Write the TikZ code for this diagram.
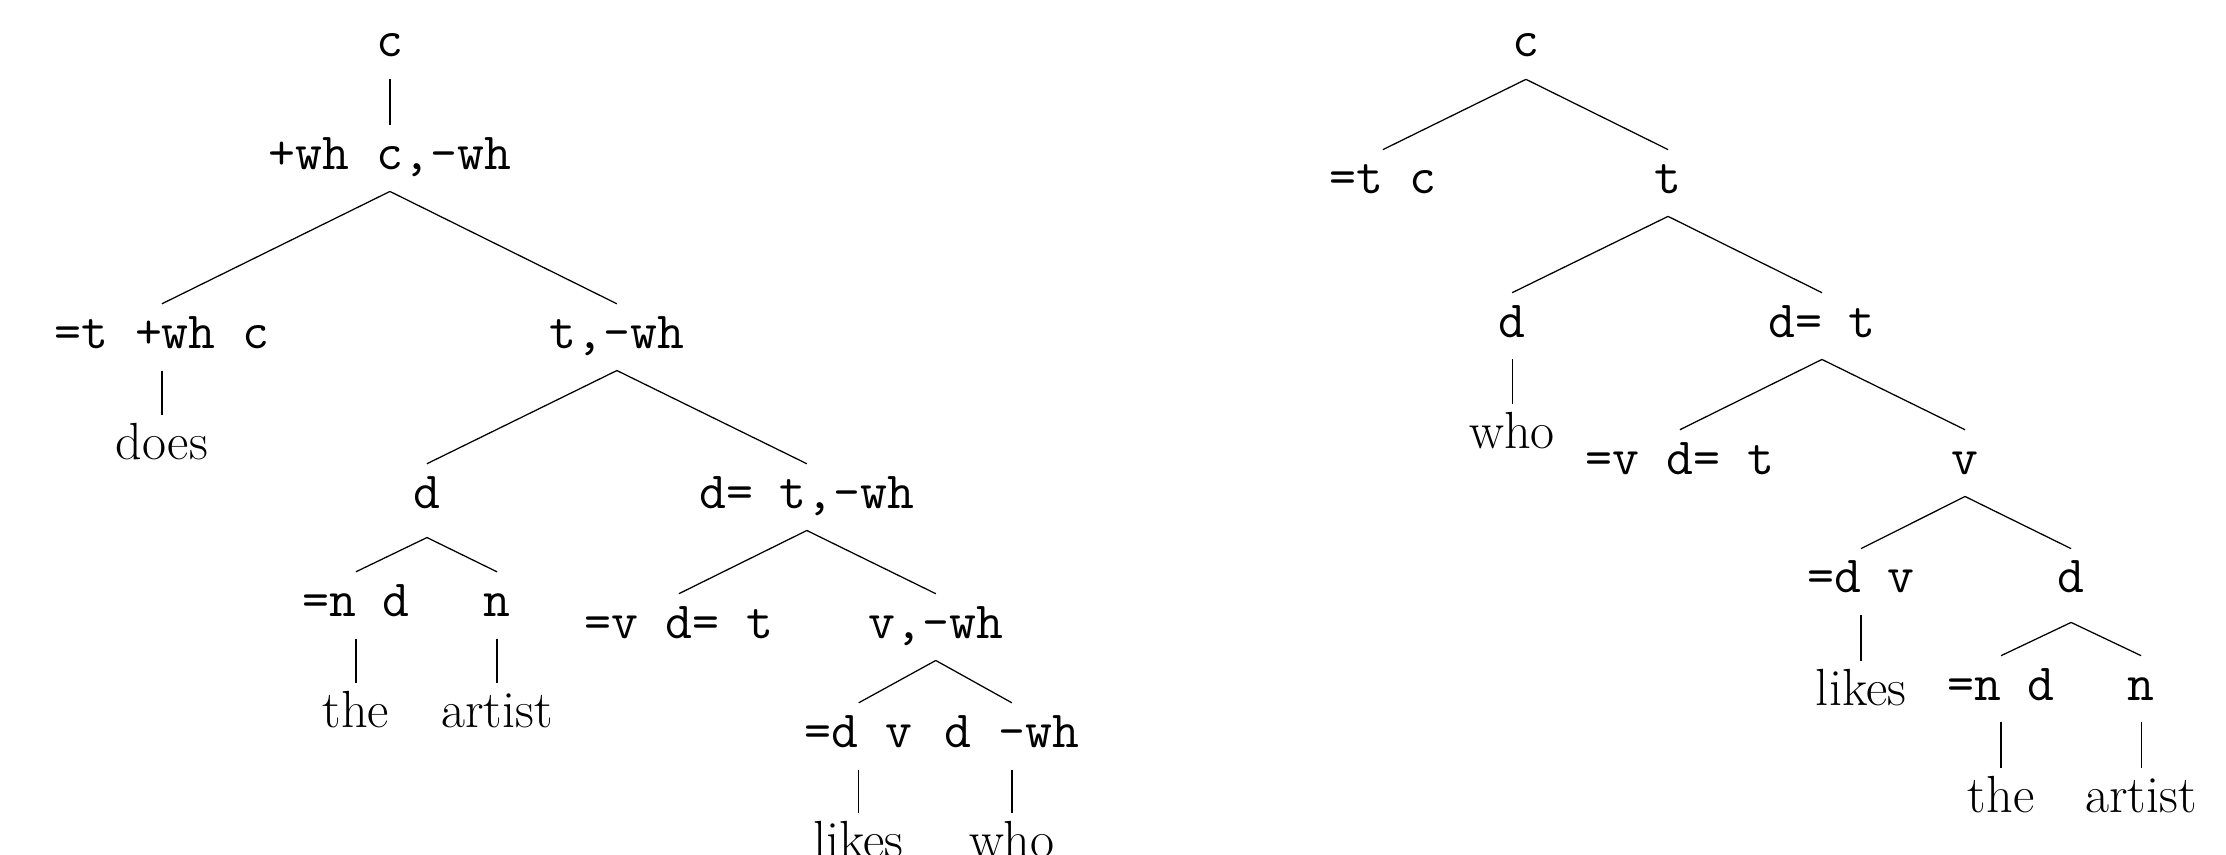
\documentclass[tikz,border=0pt]{standalone}
\usepackage{tikz}
\usetikzlibrary{positioning}

\begin{document}
\begin{tikzpicture}[on grid,
  feat/.style={inner sep=0pt,text height=17.4pt,text depth=8.7pt,font=\huge\ttfamily},
  word/.style={inner sep=0pt,text height=17.4pt,text depth=8.7pt,font=\huge\rmfamily},
  br/.style={line width=0.5pt}]

  % marco fijo (la raiz izquierda queda en el origen)
  \useasboundingbox (-154.8pt,18.25pt) rectangle ++(883.7pt,-339.4pt);

  % arbol izquierdo
  \node[feat] (lc) at (0,0) {c};
  \node[feat,below=44.5pt of lc] (lc1) {+wh c,-wh};
  \node[feat,below left=71.1pt and 90.5pt of lc1] (lt1) {=t +wh c};
  \node[feat,below right=71.1pt and 90.1pt of lc1] (lt) {t,-wh};
  \node[word,below=44.1pt of lt1] (ldoes) {does};
  \node[feat,below left=63.5pt and 75.4pt of lt] (ld) {d};
  \node[feat,below right=63.5pt and 75.4pt of lt] (ldt) {d= t,-wh};
  \node[feat,below left=42.9pt and 28.2pt of ld] (lnd) {=n d};
  \node[feat,below right=42.9pt and 27.8pt of ld] (ln) {n};
  \node[word,below=44.1pt of lnd] (lthe) {the};
  \node[word,below=44.1pt of ln] (lart) {artist};
  \node[feat,below left=51.6pt and 50.8pt of ldt] (lvdt) {=v d= t};
  \node[feat,below right=51.6pt and 51.2pt of ldt] (lv) {v,-wh};
  \node[feat,below left=43.3pt and 30.6pt of lv] (ldv) {=d v};
  \node[feat,below right=43.3pt and 30.2pt of lv] (ldwh) {d -wh};
  \node[word,below=43.7pt of ldv] (llikes) {likes};
  \node[word,below=43.7pt of ldwh] (lwho) {who};

  % arbol derecho
  \node[feat,right=451pt of lc] (rc) {c};
  \node[feat,below left=54.4pt and 56.8pt of rc] (rtc) {=t c};
  \node[feat,below right=54.4pt and 56.4pt of rc] (rt) {t};
  \node[feat,below left=56.8pt and 61.9pt of rt] (rd) {d};
  \node[feat,below right=56.8pt and 61.1pt of rt] (rdt) {d= t};
  \node[word,below=44.1pt of rd] (rwho) {who};
  \node[feat,below left=54.4pt and 56.4pt of rdt] (rvdt) {=v d= t};
  \node[feat,below right=54.4pt and 56.8pt of rdt] (rv) {v};
  \node[feat,below left=47.2pt and 41.3pt of rv] (rdv) {=d v};
  \node[feat,below right=47.2pt and 42.1pt of rv] (rd2) {d};
  \node[word,below=44.5pt of rdv] (rlikes) {likes};
  \node[feat,below left=42.5pt and 27.8pt of rd2] (rnd) {=n d};
  \node[feat,below right=42.5pt and 27.8pt of rd2] (rn) {n};
  \node[word,below=44.5pt of rnd] (rthe) {the};
  \node[word,below=44.5pt of rn] (rart) {artist};

  % ramas izquierdas
  \draw[br] (lc.south) -- (lc1.north);
  \draw[br] (lc1.south) -- (lt1.north); \draw[br] (lc1.south) -- (lt.north);
  \draw[br] (lt1.south) -- (ldoes.north);
  \draw[br] (lt.south) -- (ld.north); \draw[br] (lt.south) -- (ldt.north);
  \draw[br] ([yshift=-2.8pt]ld.south) -- (lnd.north); \draw[br] ([yshift=-2.8pt]ld.south) -- (ln.north);
  \draw[br] (lnd.south) -- (lthe.north); \draw[br] (ln.south) -- (lart.north);
  \draw[br] (ldt.south) -- (lvdt.north); \draw[br] (ldt.south) -- (lv.north);
  \draw[br] (lv.south) -- (ldv.north); \draw[br] (lv.south) -- (ldwh.north);
  \draw[br] (ldv.south) -- (llikes.north); \draw[br] (ldwh.south) -- (lwho.north);

  % ramas derechas
  \draw[br] (rc.south) -- (rtc.north); \draw[br] (rc.south) -- (rt.north);
  \draw[br] (rt.south) -- (rd.north); \draw[br] (rt.south) -- (rdt.north);
  \draw[br] (rd.south) -- (rwho.north);
  \draw[br] (rdt.south) -- (rvdt.north); \draw[br] (rdt.south) -- (rv.north);
  \draw[br] (rv.south) -- (rdv.north); \draw[br] (rv.south) -- (rd2.north);
  \draw[br] (rdv.south) -- (rlikes.north);
  \draw[br] ([yshift=-2.8pt]rd2.south) -- (rnd.north); \draw[br] ([yshift=-2.8pt]rd2.south) -- (rn.north);
  \draw[br] (rnd.south) -- (rthe.north); \draw[br] (rn.south) -- (rart.north);
\end{tikzpicture}
\end{document}
